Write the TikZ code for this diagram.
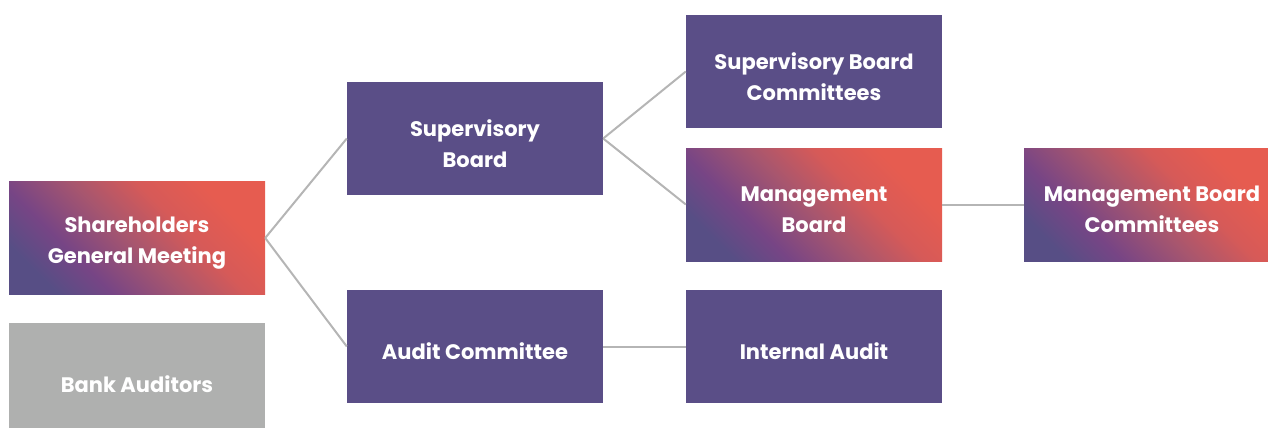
\documentclass[tikz,border=0pt]{standalone}
\usepackage{fontspec}
\setmainfont{Poppins}
\definecolor{boxpur}{HTML}{5A4E87}
\definecolor{gpur}{HTML}{574E85}
\definecolor{gmid}{HTML}{774585}
\definecolor{gmau}{HTML}{A8566E}
\definecolor{gred}{HTML}{D65A58}
\definecolor{gcor}{HTML}{E65C50}
\definecolor{bgray}{HTML}{AFB0AF}
\definecolor{lgray}{HTML}{B5B5B5}
\pgfdeclarehorizontalshading{orggrad}{100bp}{color(0bp)=(gpur); color(33bp)=(gpur); color(40bp)=(gmid); color(49bp)=(gmau); color(57bp)=(gred); color(65bp)=(gcor); color(100bp)=(gcor)}
\begin{document}
\begin{tikzpicture}[x=1pt,y=-1pt,
  boxbase/.style={minimum width=256pt, minimum height=113pt, inner sep=0pt},
  txt/.style={align=center, text=white, inner sep=0pt, yshift=-5pt,
    font=\fontsize{21}{31}\selectfont\bfseries},
  plainbox/.style={boxbase, fill=boxpur},
  gradbox/.style={boxbase, path picture={\shade[shading=orggrad, shading angle=45] (path picture bounding box.center) circle (141pt);}},
  graybox/.style={boxbase, fill=bgray},
  link/.style={draw=lgray, line width=2pt}]
\useasboundingbox (0,0) rectangle (1268,428);
\node[gradbox, label={[txt]center:Shareholders\\General Meeting}] (sgm) at (137,238) {};
\node[graybox, minimum height=106pt, label={[txt, yshift=-3pt]center:Bank Auditors}] (ba) at (137,376) {};
\node[plainbox, label={[txt]center:Supervisory\\Board}] (sb) at (475,138.5) {};
\node[plainbox, label={[txt]center:Audit Committee}] (ac) at (475,346.5) {};
\node[plainbox, label={[txt]center:Supervisory Board\\Committees}] (sbc) at (814,71.5) {};
\node[gradbox, label={[txt]center:Management\\Board}] (mb) at (814,204.5) {};
\node[plainbox, label={[txt]center:Internal Audit}] (ia) at (814,346.5) {};
\node[gradbox, minimum width=244pt, label={[txt, xshift=6pt]center:Management Board\\Committees}] (mbc) at (1146,204.5) {};
\draw[link] (sgm.east) -- (sb.west);
\draw[link] (sgm.east) -- (ac.west);
\draw[link] (sb.east) -- (sbc.west);
\draw[link] (sb.east) -- (mb.west);
\draw[link] (ac.east) -- (ia.west);
\draw[link] (mb.east) -- (mbc.west);
\end{tikzpicture}
\end{document}
